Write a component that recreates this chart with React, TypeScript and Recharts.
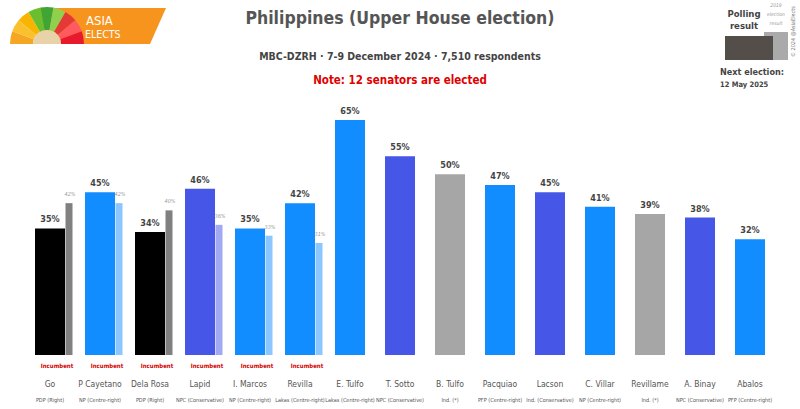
import React from "react";
import { BarChart, Bar, XAxis, YAxis, LabelList, Cell } from "recharts";

const candidates = ["Go", "P Cayetano", "Dela Rosa", "Lapid", "I. Marcos", "Revilla", "E. Tulfo", "T. Sotto", "B. Tulfo", "Pacquiao", "Lacson", "C. Villar", "Revillame", "A. Binay", "Abalos"];
const parties = ["PDP (Right)", "NP (Centre-right)", "PDP (Right)", "NPC (Conservative)", "NP (Centre-right)", "Lakas (Centre-right)", "Lakas (Centre-right)", "NPC (Conservative)", "Ind. (*)", "PFP (Centre-right)", "Ind. (Conservative)", "NP (Centre-right)", "Ind. (*)", "NPC (Conservative)", "PFP (Centre-right)"];
const incumbent = [true, true, true, true, true, true, false, false, false, false, false, false, false, false, false];
const polling = [35, 45, 34, 46, 35, 42, 65, 55, 50, 47, 45, 41, 39, 38, 32];
const result2019 = [42, 42, 40, 36, 33, 31, null, null, null, null, null, null, null, null, null];
const groups = ["pdp", "blue", "pdp", "npc", "blue", "blue", "blue", "npc", "ind", "blue", "npc", "blue", "ind", "npc", "blue"];

const MAIN_COLORS: Record<string, string> = { pdp: "#000000", blue: "#118dff", npc: "#4656e6", ind: "#a6a6a6" };
const PREV_COLORS: Record<string, string> = { pdp: "#808080", blue: "#8cc6ff", npc: "#a1a9f2", ind: "#cccccc" };

const FONT = "'DejaVu Sans', sans-serif";
const STRETCH = "condensed";

const data = candidates.map((name, i) => ({
  name,
  poll: polling[i],
  prev: result2019[i],
}));

// 2019 bar drawn just right of the main bar
const PrevShape = (props: any) => {
  const { x, y, width, height, fill, value } = props;
  if (value == null || !height) return null;
  const nx = x + width / 2 + 15;
  return (
    <g>
      <rect x={nx} y={y} width={width} height={height} fill={fill} />
      <text x={nx + width / 2 + 1} y={y - 7} fontSize={5.5} fontStyle="italic" fill="#9a9a9a" textAnchor="middle" fontFamily={FONT} fontStretch={STRETCH}>
        {value}%
      </text>
    </g>
  );
};

const Tick = (props: any) => {
  const { x, payload } = props;
  const i = payload.index;
  const base = 355;
  return (
    <g fontFamily={FONT} fontStretch={STRETCH}>
      {incumbent[i] && (
        <text x={x + 7} y={base + 13} fontSize={6} fill="#d40000" textAnchor="middle" fontWeight="bold">Incumbent</text>
      )}
      <text x={x} y={base + 32} fontSize={8.5} fill="#555" textAnchor="middle">{candidates[i]}</text>
      <text x={x} y={base + 47} fontSize={5.5} fill="#555" textAnchor="middle">{parties[i]}</text>
    </g>
  );
};

const Logo = () => {
  const cx = 47, cy = 44, r = 37;
  const cols = ["#f5a623", "#fbc02d", "#f7b500", "#6abf2f", "#3fa535", "#8fd14f", "#e53935", "#ff5a5f", "#e8192c"];
  const n = cols.length;
  const segs = cols.map((c, k) => {
    const a0 = Math.PI - (k * Math.PI) / n;
    const a1 = Math.PI - ((k + 1) * Math.PI) / n;
    const p = (a: number, rr: number) => `${cx + rr * Math.cos(a)},${cy - rr * Math.sin(a)}`;
    return <path key={k} d={`M${p(a0, 14)} L${p(a0, r)} A${r},${r} 0 0 1 ${p(a1, r)} L${p(a1, 14)} A14,14 0 0 0 ${p(a0, 14)} Z`} fill={c} />;
  });
  return (
    <svg width={170} height={50} style={{ position: "absolute", left: 0, top: 0 }}>
      <polygon points="40,8 166,8 150,44 40,44" fill="#f7941d" />
      {segs}
      <path d={`M${cx - 14},${cy} A14,14 0 0 1 ${cx + 14},${cy} Z`} fill="#e8d3a8" />
      <text x={86} y={25} fontSize={13} fill="#fff" fontFamily={FONT} fontStretch={STRETCH}>ASIA</text>
      <text x={85} y={38} fontSize={10.5} fill="#fff" fontFamily={FONT} fontStretch={STRETCH}>ELECTS</text>
    </svg>
  );
};

export default function App() {
  const base: React.CSSProperties = { position: "absolute", left: 0, width: 800, textAlign: "center", fontStretch: STRETCH, fontWeight: "bold" };
  return (
    <div style={{ position: "absolute", left: 0, top: 0, width: 800, height: 409, background: "#fff", overflow: "hidden", fontFamily: FONT }}>
      <Logo />
      <div style={{ ...base, top: 8, fontSize: 17.5, color: "#555" }}>
        Philippines (Upper House election)
      </div>
      <div style={{ ...base, top: 50, fontSize: 10.5, color: "#444" }}>
        MBC-DZRH · 7-9 December 2024 · 7,510 respondents
      </div>
      <div style={{ ...base, top: 73, fontSize: 11.5, color: "#e00000" }}>
        Note: 12 senators are elected
      </div>

      {/* legend box top-right */}
      <svg width={120} height={100} style={{ position: "absolute", left: 700, top: 0 }} fontFamily={FONT} fontStretch={STRETCH}>
        <text x={44} y={17} fontSize={9.5} fontWeight="bold" fill="#444" textAnchor="middle">Polling</text>
        <text x={44} y={29} fontSize={9.5} fontWeight="bold" fill="#444" textAnchor="middle">result</text>
        <text x={76} y={7} fontSize={5} fontStyle="italic" fill="#999" textAnchor="middle">2019</text>
        <text x={76} y={16} fontSize={5} fontStyle="italic" fill="#999" textAnchor="middle">election</text>
        <text x={76} y={25} fontSize={5} fontStyle="italic" fill="#999" textAnchor="middle">result</text>
        <rect x={64} y={32} width={24} height={28} fill="#aaaaaa" />
        <rect x={25} y={36} width={48} height={24} fill="#544e4b" />
        <text x={0} y={0} fontSize={5.5} fill="#777" transform="translate(95,57) rotate(-90)">© 2024 @AsiaElects</text>
        <text x={20} y={75} fontSize={9} fontWeight="bold" fill="#444">Next election:</text>
        <text x={20} y={87} fontSize={7.5} fontWeight="bold" fill="#444">12 May 2025</text>
      </svg>

      <div style={{ position: "absolute", left: 0, top: 0 }}>
        <BarChart width={800} height={409} data={data} margin={{ top: 120, right: 25, bottom: 0, left: 25 }}>
          <XAxis xAxisId="main" dataKey="name" height={54} axisLine={false} tickLine={false} interval={0} tick={<Tick />} />
          <XAxis xAxisId="prev" dataKey="name" hide />
          <YAxis hide domain={[0, 65]} />
          <Bar xAxisId="main" dataKey="poll" barSize={30} isAnimationActive={false}>
            {data.map((d, i) => (
              <Cell key={d.name} fill={MAIN_COLORS[groups[i]]} />
            ))}
            <LabelList dataKey="poll" position="top" offset={6} formatter={(v: any) => `${v}%`} style={{ fontSize: 9, fontWeight: "bold", fill: "#444", fontFamily: FONT, fontStretch: STRETCH }} />
          </Bar>
          <Bar xAxisId="prev" dataKey="prev" barSize={7} isAnimationActive={false} shape={<PrevShape />}>
            {data.map((d, i) => (
              <Cell key={d.name} fill={PREV_COLORS[groups[i]]} />
            ))}
          </Bar>
        </BarChart>
      </div>
    </div>
  );
}
